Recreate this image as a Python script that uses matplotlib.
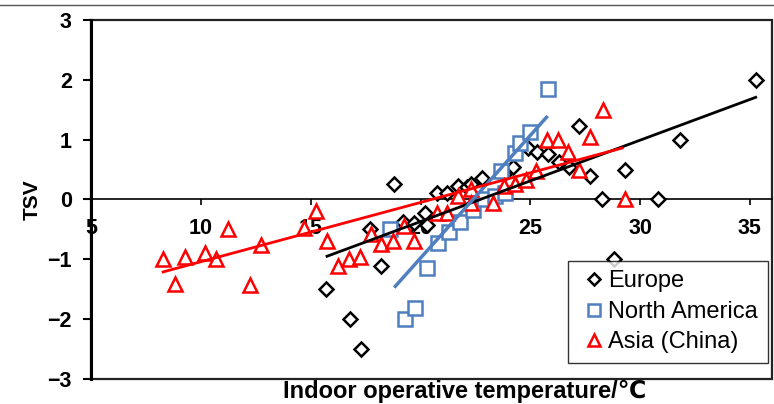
import matplotlib
matplotlib.use("Agg")
import matplotlib.pyplot as plt
from matplotlib.lines import Line2D
from matplotlib.patches import Rectangle
import numpy as np

plt.rcParams["font.family"] = ["Liberation Sans", "DejaVu Sans"]

# Europe (diamonds)
europe_t = [15.7, 16.8, 17.3, 17.7, 18.2, 18.8, 19.2, 19.7, 20.2, 20.3, 20.75,
            21.2, 21.7, 22.1, 22.3, 22.8, 23.8, 24.2, 24.9, 25.3, 25.8, 26.3,
            26.75, 27.2, 27.7, 28.25, 28.8, 29.3, 30.8, 31.8, 35.3]
europe_tsv = [-1.5, -2.0, -2.5, -0.5, -1.12, 0.26, -0.38, -0.4, -0.22, -0.43, 0.1,
              0.1, 0.23, 0.2, 0.26, 0.36, 0.42, 0.55, 0.86, 0.8, 0.76, 0.62,
              0.55, 1.23, 0.4, 0.0, -1.0, 0.5, 0.0, 1.0, 2.0]

# North America (squares)
na_t = [18.6, 19.3, 19.75, 20.3, 20.8, 21.3, 21.8, 22.4, 22.9, 23.4, 23.85,
        23.65, 24.3, 24.55, 25.0, 25.8]
na_tsv = [-0.5, -2.0, -1.81, -1.14, -0.73, -0.55, -0.38, -0.17, 0.0, 0.05, 0.1,
          0.47, 0.78, 0.95, 1.12, 1.85]

# Asia (China) (triangles)
asia_t = [8.25, 8.8, 9.25, 10.2, 10.7, 11.25, 12.25, 12.75, 14.7, 15.25, 15.75,
          16.25, 16.75, 17.25, 17.75, 18.2, 18.75, 19.25, 19.7, 20.75, 21.2,
          21.7, 22.3, 22.3, 23.3, 23.8, 24.3, 24.8, 25.25, 25.75, 26.25, 26.7,
          27.2, 27.7, 28.3, 29.3]
asia_tsv = [-1.0, -1.42, -0.97, -0.89, -1.0, -0.49, -1.43, -0.76, -0.48, -0.2, -0.7,
            -1.12, -1.0, -0.97, -0.58, -0.75, -0.7, -0.45, -0.7, -0.22, -0.22,
            0.05, 0.17, -0.06, -0.06, 0.22, 0.25, 0.32, 0.47, 1.0, 1.0, 0.8,
            0.5, 1.05, 1.5, 0.0]

# linear trend lines: (slope, intercept, t_start, t_end)
europe_fit = (0.136, -3.09, 15.74, 35.27)
na_fit = (0.41, -9.18, 18.85, 25.74)
asia_fit = (0.099, -2.03, 8.27, 29.19)

x_ticks = [5, 10, 15, 20, 25, 30, 35]
y_ticks = [-3, -2, -1, 0, 1, 2, 3]

BLUE = "#4f7fbf"
RED = "#ff0000"


def fit_line(ax, fit, color, lw):
    slope, icpt, t0, t1 = fit
    t = np.array([t0, t1])
    ax.plot(t, slope * t + icpt, color=color, lw=lw, zorder=4)


fig = plt.figure(figsize=(7.74, 4.04), dpi=100)
ax = fig.add_axes([0.118, 0.062, 0.879, 0.8886])

ax.plot(europe_t, europe_tsv, ls="none", marker="D", ms=7, mfc="white",
        mec="black", mew=1.8, label="Europe", zorder=3)
ax.plot(na_t, na_tsv, ls="none", marker="s", ms=9.5, mfc="white",
        mec=BLUE, mew=1.8, label="North America", zorder=3)
ax.plot(asia_t, asia_tsv, ls="none", marker="^", ms=10, mfc="white",
        mec=RED, mew=1.8, label="Asia (China)", zorder=3)

fit_line(ax, europe_fit, "black", 2.0)
fit_line(ax, na_fit, BLUE, 2.5)
fit_line(ax, asia_fit, RED, 2.0)

ax.set_xlim(5, 36)
ax.set_ylim(-3, 3)
ax.set_xticks(x_ticks)
ax.set_yticks(y_ticks)

ax.spines["bottom"].set_position(("data", 0))
ax.spines["bottom"].set_linewidth(1.2)
for s in ("top", "right"):
    ax.spines[s].set_visible(False)
ax.spines["left"].set_linewidth(2.2)
ax.add_patch(Rectangle((0, 0), 1, 1, transform=ax.transAxes, fill=False,
                       ec="#222222", lw=1.6, clip_on=False, zorder=0))

ax.tick_params(axis="x", direction="out", length=4, width=1.2, pad=9,
               labelsize=15.5)
ax.tick_params(axis="y", direction="out", length=6, width=1.5, pad=8,
               labelsize=15.5)
for lab in ax.get_xticklabels() + ax.get_yticklabels():
    lab.set_fontweight("bold")

ax.set_ylabel("TSV", fontsize=15, fontweight="bold", labelpad=4)
fig.text(0.6, 0.03, "Indoor operative temperature/℃", ha="center",
         va="center", fontsize=17, fontweight="bold",
         family=["Liberation Sans", "DejaVu Sans"])

leg = ax.legend(loc="lower right", bbox_to_anchor=(0.994, 0.045),
                fontsize=17, frameon=True, fancybox=False, handlelength=1.4,
                handletextpad=-0.1, borderpad=0.4, labelspacing=0.36,
                borderaxespad=0.0, markerscale=0.85)
leg.get_frame().set_edgecolor("black")
leg.get_frame().set_linewidth(1.0)

fig.add_artist(Line2D([0, 1], [0.988, 0.988], transform=fig.transFigure,
                      color="#555555", lw=1.0))

fig.savefig("out.png", dpi=100)
